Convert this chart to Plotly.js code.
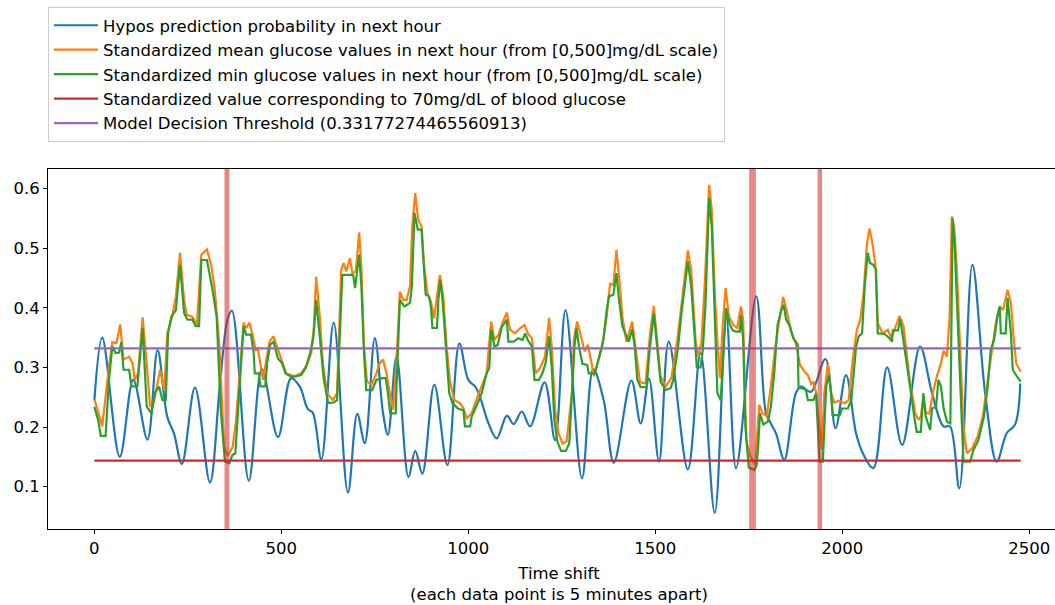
<!DOCTYPE html>
<html>
<head>
<meta charset="utf-8">
<script src="https://cdn.plot.ly/plotly-3.0.1.min.js"></script>
<style>
html,body{margin:0;padding:0;overflow:hidden;background:#fff;}
#chart{width:1075px;height:605px;}
</style>
</head>
<body>
<div id="chart"></div>
<script>
// Hypo prediction probability (blue)
const probX = [0,21,68,104,142,169,195,213,234,269,309,335,356,368,413,448,491,526,549,571,584,607,640,678,703,723,750,772,785,808,840,858,877,909,944,976,1000,1018,1031,1054,1076,1103,1121,1143,1165,1204,1232,1260,1304,1334,1362,1389,1436,1461,1483,1510,1536,1587,1621,1659,1690,1716,1770,1796,1809,1823,1845,1876,1890,1916,1955,1982,2010,2037,2055,2083,2120,2160,2208,2240,2271,2288,2313,2348,2382,2413,2440,2462,2476];
const probY = [0.245,0.350,0.150,0.279,0.179,0.329,0.217,0.189,0.138,0.266,0.107,0.265,0.380,0.395,0.110,0.297,0.183,0.282,0.268,0.230,0.224,0.146,0.375,0.090,0.222,0.173,0.349,0.223,0.187,0.318,0.116,0.160,0.122,0.271,0.136,0.340,0.279,0.268,0.251,0.206,0.181,0.219,0.205,0.226,0.201,0.275,0.178,0.396,0.114,0.297,0.245,0.140,0.278,0.206,0.281,0.142,0.343,0.129,0.324,0.056,0.383,0.131,0.419,0.223,0.206,0.189,0.145,0.257,0.268,0.259,0.314,0.198,0.287,0.189,0.156,0.131,0.300,0.170,0.335,0.257,0.201,0.201,0.097,0.472,0.257,0.142,0.190,0.204,0.273];

// Standardized mean glucose (orange)
const meanX = [0,21,39,48,59,69,78,93,102,108,117,129,139,149,160,176,187,195,209,218,229,240,247,262,274,286,301,313,322,334,347,357,370,379,388,399,406,415,424,431,437,444,451,460,468,479,488,500,513,535,553,568,580,587,593,602,611,622,638,649,654,660,667,674,683,690,699,708,714,721,729,741,754,763,772,781,790,799,808,817,826,835,844,850,858,866,875,882,891,900,908,917,924,933,942,951,963,978,987,996,1009,1023,1036,1049,1061,1070,1081,1091,1103,1112,1125,1139,1150,1161,1170,1180,1192,1205,1216,1223,1232,1241,1252,1263,1277,1282,1291,1302,1311,1320,1327,1336,1346,1358,1370,1379,1388,1396,1404,1412,1423,1438,1447,1459,1474,1486,1496,1505,1514,1528,1543,1559,1572,1587,1596,1608,1615,1623,1632,1644,1651,1659,1668,1673,1680,1688,1697,1709,1719,1729,1735,1743,1753,1768,1774,1778,1787,1798,1809,1821,1832,1842,1851,1863,1876,1887,1899,1908,1917,1923,1930,1939,1945,1952,1961,1970,1979,1992,2006,2017,2028,2039,2048,2057,2066,2073,2082,2089,2095,2108,2122,2131,2142,2153,2164,2173,2182,2190,2195,2204,2210,2217,2224,2233,2242,2253,2264,2271,2280,2287,2293,2299,2306,2315,2324,2333,2347,2362,2376,2389,2400,2412,2421,2430,2442,2451,2458,2465,2477];
const meanY = [0.247,0.201,0.301,0.342,0.341,0.372,0.313,0.318,0.307,0.279,0.290,0.384,0.313,0.234,0.245,0.296,0.262,0.357,0.388,0.419,0.492,0.413,0.388,0.385,0.371,0.489,0.498,0.469,0.430,0.340,0.167,0.152,0.167,0.212,0.285,0.375,0.366,0.375,0.352,0.329,0.332,0.307,0.279,0.313,0.343,0.352,0.335,0.313,0.290,0.285,0.290,0.304,0.324,0.368,0.452,0.391,0.307,0.257,0.245,0.257,0.368,0.464,0.475,0.461,0.483,0.458,0.461,0.526,0.469,0.335,0.276,0.271,0.290,0.307,0.313,0.290,0.257,0.229,0.313,0.427,0.413,0.413,0.436,0.536,0.592,0.547,0.536,0.469,0.424,0.410,0.382,0.419,0.455,0.419,0.335,0.276,0.245,0.240,0.231,0.215,0.223,0.248,0.268,0.290,0.377,0.346,0.355,0.374,0.392,0.363,0.357,0.366,0.371,0.355,0.349,0.290,0.299,0.318,0.383,0.335,0.229,0.190,0.172,0.176,0.257,0.346,0.377,0.352,0.327,0.338,0.313,0.285,0.307,0.335,0.385,0.440,0.438,0.497,0.447,0.385,0.343,0.377,0.335,0.275,0.273,0.357,0.403,0.346,0.285,0.268,0.282,0.346,0.413,0.496,0.464,0.343,0.318,0.340,0.436,0.606,0.564,0.424,0.324,0.282,0.368,0.433,0.385,0.371,0.366,0.402,0.380,0.178,0.153,0.136,0.201,0.237,0.223,0.218,0.268,0.335,0.380,0.418,0.396,0.360,0.340,0.304,0.293,0.287,0.272,0.276,0.257,0.201,0.162,0.257,0.306,0.257,0.241,0.244,0.240,0.245,0.313,0.363,0.380,0.424,0.508,0.533,0.503,0.469,0.374,0.357,0.363,0.349,0.369,0.386,0.369,0.315,0.270,0.245,0.223,0.212,0.218,0.251,0.223,0.223,0.257,0.285,0.307,0.328,0.318,0.385,0.553,0.536,0.469,0.335,0.201,0.156,0.164,0.184,0.218,0.279,0.329,0.380,0.402,0.396,0.430,0.408,0.352,0.307,0.293];

// Standardized min glucose (green)
const minX = [0,10,17,30,39,48,57,66,72,78,93,99,115,129,140,153,162,173,182,191,197,206,218,229,240,249,262,271,280,286,301,309,316,327,338,349,361,369,377,386,394,399,406,419,426,429,440,444,457,462,470,479,491,502,511,526,538,553,565,577,586,593,602,613,625,640,649,658,663,678,692,697,708,714,721,727,743,754,770,779,785,791,806,808,817,829,844,849,856,865,875,881,886,895,900,904,916,920,925,931,940,949,957,972,987,991,1005,1009,1023,1036,1049,1056,1061,1070,1079,1089,1103,1107,1121,1134,1145,1152,1159,1170,1177,1189,1198,1207,1216,1223,1230,1238,1248,1261,1270,1275,1284,1289,1296,1305,1318,1322,1338,1345,1354,1361,1370,1376,1388,1396,1403,1412,1421,1429,1438,1445,1452,1461,1477,1484,1496,1505,1514,1528,1541,1548,1561,1570,1587,1596,1605,1611,1621,1627,1634,1639,1644,1651,1659,1666,1675,1682,1689,1698,1707,1716,1726,1729,1735,1741,1750,1765,1771,1775,1780,1789,1801,1809,1818,1827,1836,1843,1850,1860,1869,1881,1883,1894,1903,1908,1923,1930,1934,1939,1948,1952,1957,1964,1970,1974,1994,1999,2015,2024,2030,2037,2044,2053,2060,2068,2074,2083,2090,2095,2113,2126,2133,2135,2149,2155,2162,2171,2181,2186,2192,2199,2210,2217,2223,2235,2240,2251,2257,2264,2271,2280,2289,2291,2295,2300,2308,2317,2324,2342,2351,2364,2379,2389,2397,2406,2415,2421,2424,2437,2442,2451,2456,2467,2477];
const minY = [0.234,0.212,0.185,0.185,0.279,0.335,0.324,0.325,0.342,0.296,0.296,0.268,0.268,0.366,0.234,0.223,0.257,0.268,0.245,0.245,0.357,0.385,0.396,0.472,0.391,0.380,0.380,0.369,0.369,0.480,0.480,0.455,0.430,0.385,0.229,0.142,0.139,0.153,0.156,0.245,0.313,0.369,0.355,0.355,0.324,0.290,0.290,0.268,0.268,0.307,0.338,0.343,0.315,0.307,0.290,0.284,0.285,0.287,0.299,0.324,0.352,0.413,0.357,0.282,0.240,0.241,0.245,0.385,0.455,0.455,0.455,0.433,0.489,0.436,0.324,0.262,0.262,0.279,0.282,0.282,0.257,0.223,0.223,0.268,0.413,0.402,0.408,0.436,0.559,0.531,0.531,0.469,0.422,0.419,0.402,0.366,0.366,0.413,0.447,0.413,0.329,0.257,0.241,0.231,0.228,0.201,0.201,0.218,0.237,0.257,0.290,0.299,0.363,0.335,0.338,0.367,0.380,0.343,0.343,0.349,0.346,0.357,0.346,0.335,0.279,0.279,0.290,0.308,0.352,0.301,0.212,0.176,0.160,0.160,0.173,0.234,0.335,0.366,0.335,0.306,0.304,0.290,0.290,0.306,0.329,0.346,0.396,0.419,0.422,0.458,0.413,0.369,0.355,0.343,0.364,0.335,0.279,0.267,0.267,0.324,0.391,0.329,0.276,0.262,0.265,0.279,0.335,0.391,0.478,0.436,0.357,0.300,0.300,0.329,0.402,0.503,0.584,0.536,0.380,0.257,0.245,0.313,0.399,0.374,0.362,0.360,0.360,0.388,0.346,0.201,0.132,0.128,0.136,0.167,0.223,0.204,0.209,0.234,0.290,0.371,0.394,0.405,0.380,0.369,0.349,0.338,0.265,0.265,0.262,0.245,0.245,0.257,0.201,0.142,0.142,0.201,0.268,0.287,0.257,0.220,0.220,0.231,0.231,0.245,0.290,0.335,0.352,0.357,0.436,0.492,0.475,0.472,0.464,0.357,0.356,0.349,0.343,0.362,0.362,0.381,0.352,0.310,0.265,0.243,0.220,0.192,0.192,0.257,0.218,0.195,0.231,0.234,0.279,0.268,0.231,0.209,0.206,0.313,0.550,0.514,0.396,0.245,0.142,0.142,0.162,0.178,0.218,0.268,0.329,0.346,0.385,0.402,0.357,0.357,0.416,0.357,0.296,0.285,0.276];

// Constant reference levels
const levelX = [0, 2477];
const hypoLevel = 0.1436;
const decisionThreshold = 0.33177274465560913;

// Actual hypo events (vertical bands)
const hypoStart = [348, 1751, 1934];
const hypoEnd = [361, 1769, 1946];

const labels = [
  'Hypos prediction probability in next hour',
  'Standardized mean glucose values in next hour (from [0,500]mg/dL scale)',
  'Standardized min glucose values in next hour (from [0,500]mg/dL scale)',
  'Standardized value corresponding to 70mg/dL of blood glucose',
  'Model Decision Threshold (0.33177274465560913)'
];
const colors = ['#1f77b4','#ff7f0e','#2ca02c','#d62728','#9467bd'];

const traces = [
  {x: probX, y: probY, mode:'lines', name: labels[0], line:{color:colors[0], width:2.2, shape:'spline', smoothing:1}},
  {x: meanX, y: meanY, mode:'lines', name: labels[1], line:{color:colors[1], width:2.2}},
  {x: minX, y: minY, mode:'lines', name: labels[2], line:{color:colors[2], width:2.2}},
  {x: levelX, y: levelX.map(() => hypoLevel), mode:'lines', name: labels[3], line:{color:colors[3], width:2.2}},
  {x: levelX, y: levelX.map(() => decisionThreshold), mode:'lines', name: labels[4], line:{color:colors[4], width:2.2}}
];

const shapes = hypoStart.map((s, i) => ({
  type:'rect', xref:'x', yref:'paper', x0:s, x1:hypoEnd[i], y0:0, y1:1,
  fillcolor:'rgba(214,39,40,0.55)', line:{width:0}, layer:'above'
}));

const font = {family:'DejaVu Sans, sans-serif', size:16.5, color:'#000'};

const layout = {
  width:1075, height:605,
  margin:{l:48, r:5, t:169, b:76},
  paper_bgcolor:'#fff', plot_bgcolor:'#fff',
  font: font,
  showlegend:true,
  legend:{x:0, y:1.45, xanchor:'left', yanchor:'top', bordercolor:'#cccccc', borderwidth:1, bgcolor:'#fff', font:font, itemwidth:44, tracegroupgap:0},
  xaxis:{range:[-124, 2609], tick0:0, dtick:500, ticks:'outside', ticklen:4, tickcolor:'#000',
    showline:true, linecolor:'#000', linewidth:1, mirror:true, showgrid:false, zeroline:false,
    tickfont:font, title:{text:'Time shift<br>(each data point is 5 minutes apart)', font:font, standoff:10}},
  yaxis:{range:[0.029, 0.6326], tick0:0, dtick:0.1, tickformat:'.1f', ticks:'outside', ticklen:4, tickcolor:'#000',
    showline:true, linecolor:'#000', linewidth:1, mirror:true, showgrid:false, zeroline:false, tickfont:font},
  shapes: shapes
};

Plotly.newPlot('chart', traces, layout, {displayModeBar:false, staticPlot:true});
</script>
</body>
</html>
